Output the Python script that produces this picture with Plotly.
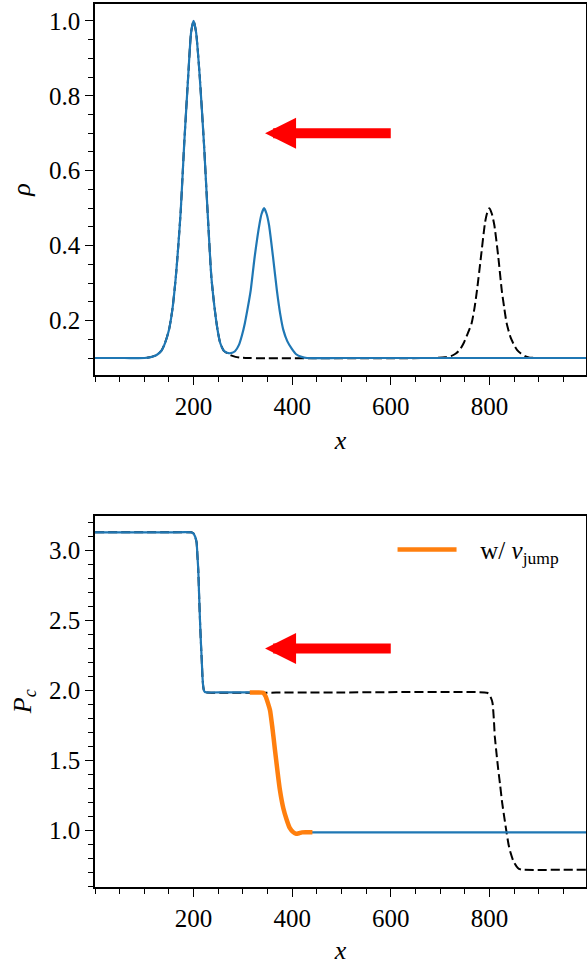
import plotly.graph_objects as go

# ---------------- data ----------------
# top panel: density rho(x)
rho_x = [0, 60, 100, 115, 125, 135, 142, 150, 157, 164, 169, 174, 181, 189, 195, 200,
         205, 212, 221, 228, 236, 242, 248, 254, 261, 268, 276, 284, 292, 298, 304,
         310, 316, 324, 334, 338, 343, 348, 353, 361, 369, 376, 382, 390, 399, 408,
         419, 430, 500, 996]
rho_y = [0.1, 0.1, 0.1, 0.103, 0.108, 0.12, 0.14, 0.175, 0.23, 0.317, 0.40, 0.495, 0.673,
         0.851, 0.97, 1.0, 0.97, 0.86, 0.673, 0.50, 0.317, 0.24, 0.18, 0.14, 0.12, 0.114,
         0.113, 0.118, 0.135, 0.16, 0.193, 0.235, 0.282, 0.371, 0.46, 0.485, 0.5, 0.485,
         0.455, 0.371, 0.28, 0.215, 0.175, 0.145, 0.125, 0.11, 0.103, 0.1, 0.1, 0.1]

rho0_x = [0, 60, 100, 115, 125, 135, 142, 150, 157, 164, 169, 174, 181, 189, 195, 200,
          205, 212, 221, 228, 236, 242, 248, 254, 261, 268, 276, 285, 295, 305, 680,
          710, 722, 732, 740, 748, 756, 764, 770, 775, 783, 791, 795, 800, 805, 810,
          818, 825, 830, 835, 843, 850, 856, 864, 872, 882, 900, 996]
rho0_y = [0.1, 0.1, 0.1, 0.103, 0.108, 0.12, 0.14, 0.175, 0.23, 0.317, 0.40, 0.495, 0.673,
          0.851, 0.97, 1.0, 0.97, 0.86, 0.673, 0.50, 0.317, 0.24, 0.18, 0.14, 0.12, 0.113,
          0.107, 0.103, 0.101, 0.1, 0.1, 0.102, 0.105, 0.112, 0.122, 0.14, 0.165, 0.193,
          0.235, 0.282, 0.371, 0.46, 0.485, 0.5, 0.485, 0.455, 0.371, 0.282, 0.235, 0.193,
          0.155, 0.135, 0.122, 0.112, 0.105, 0.101, 0.1, 0.1]

# bottom panel: Pc(x)
pc_x = [0, 150, 195, 199, 203, 206, 208, 209.5, 211, 213, 215, 216.5, 218, 219.5, 221,
        223, 226, 260, 314, 330, 341, 346, 350, 355, 360, 365, 370, 375, 382, 388.6,
        395, 402, 408, 414, 420, 441, 600, 996]
pc_y = [3.13, 3.13, 3.13, 3.125, 3.10, 3.06, 2.95, 2.86, 2.70, 2.50, 2.33, 2.22, 2.10,
        2.03, 2.0, 1.99, 1.987, 1.987, 1.987, 1.987, 1.985, 1.96, 1.92, 1.86, 1.73, 1.578,
        1.43, 1.293, 1.16, 1.08, 1.02, 0.99, 0.978, 0.982, 0.988, 0.988, 0.988, 0.988]

jump_x = [314, 330, 341, 346, 350, 355, 360, 365, 370, 375, 382, 388.6, 395, 402, 408,
          414, 420, 441]
jump_y = [1.987, 1.987, 1.985, 1.96, 1.92, 1.86, 1.73, 1.578, 1.43, 1.293, 1.16, 1.08,
          1.02, 0.99, 0.978, 0.982, 0.988, 0.988]

pc0_x = [0, 150, 195, 199, 203, 206, 208, 209.5, 211, 213, 215, 216.5, 218, 219.5, 221,
         223, 226, 500, 795, 799, 803, 806.4, 809, 811, 814.5, 818, 822, 826, 830.5, 835,
         839, 843, 849, 855, 860, 866, 996]
pc0_y = [3.13, 3.13, 3.13, 3.125, 3.10, 3.06, 2.95, 2.86, 2.70, 2.50, 2.33, 2.22, 2.10,
         2.03, 2.0, 1.99, 1.987, 1.987, 1.985, 1.975, 1.95, 1.912, 1.80, 1.673, 1.55, 1.436,
         1.32, 1.198, 1.09, 0.984, 0.90, 0.842, 0.78, 0.746, 0.728, 0.722, 0.722]

# arrows (tail x, head x, level)
arrow_tail_x = 603
arrow_head_x = 345
arrow_rho = 0.7
arrow_pc = 2.3

x_ticks = [200, 400, 600, 800]
rho_ticks = [0.2, 0.4, 0.6, 0.8, 1.0]
pc_ticks = [1.0, 1.5, 2.0, 2.5, 3.0]

BLUE = "#1f77b4"
ORANGE = "#ff7f0e"
FONT = "Liberation Serif"
NBSP = "\u00a0"

fig = go.Figure()

fig.add_trace(go.Scatter(x=rho0_x, y=rho0_y, mode="lines", showlegend=False,
                         line=dict(color="black", width=2, dash="9px,4px", shape="spline", smoothing=0.6),
                         xaxis="x", yaxis="y"))
fig.add_trace(go.Scatter(x=rho_x, y=rho_y, mode="lines", showlegend=False,
                         line=dict(color=BLUE, width=2.2, shape="spline", smoothing=0.6),
                         xaxis="x", yaxis="y"))

fig.add_trace(go.Scatter(x=pc0_x, y=pc0_y, mode="lines", showlegend=False,
                         line=dict(color="black", width=2, dash="9px,4px", shape="spline", smoothing=0.5),
                         xaxis="x2", yaxis="y2"))
fig.add_trace(go.Scatter(x=pc_x, y=pc_y, mode="lines", showlegend=False,
                         line=dict(color=BLUE, width=2.2, shape="spline", smoothing=0.5),
                         xaxis="x2", yaxis="y2"))
fig.add_trace(go.Scatter(x=jump_x, y=jump_y, mode="lines",
                         name=NBSP * 3 + "w/ <i>v</i><sub>jump</sub>",
                         line=dict(color=ORANGE, width=4.5, shape="spline", smoothing=0.5),
                         xaxis="x2", yaxis="y2"))

for xr, yr, yv in [("x", "y", arrow_rho), ("x2", "y2", arrow_pc)]:
    fig.add_annotation(x=arrow_head_x, y=yv, ax=arrow_tail_x, ay=yv,
                       xref=xr, yref=yr, axref=xr, ayref=yr,
                       text="", showarrow=True, arrowhead=2, arrowsize=0.62,
                       arrowwidth=10, arrowcolor="#ff0000")

axis_common = dict(showline=True, linecolor="black", linewidth=1.5, mirror=True,
                   ticks="outside", ticklen=8, tickwidth=1.2, tickcolor="black",
                   showgrid=False, zeroline=False, automargin=False,
                   tickfont=dict(family=FONT, size=25, color="black"))

xaxis_common = dict(axis_common, range=[0, 996], tickmode="array", tickvals=x_ticks,
                    minor=dict(tickmode="linear", tick0=0, dtick=50, ticklen=5,
                               tickwidth=1, tickcolor="black", ticks="outside"))

fig.update_layout(
    width=587, height=965,
    margin=dict(l=95, r=1, t=4, b=78),
    paper_bgcolor="white", plot_bgcolor="white",
    font=dict(family=FONT, color="black"),
    xaxis=dict(xaxis_common, anchor="y",
               title=dict(text="<i>x</i>", font=dict(family=FONT, size=26), standoff=12)),
    yaxis=dict(axis_common, domain=[0.58, 1.0], range=[0.055, 1.045],
               tickmode="array", tickvals=rho_ticks, ticktext=["0.2", "0.4", "0.6", "0.8", "1.0"],
               minor=dict(tickmode="linear", tick0=0, dtick=0.05, ticklen=5,
                          tickwidth=1, tickcolor="black", ticks="outside"),
               title=dict(text="<i>ρ</i>", font=dict(family=FONT, size=26), standoff=11)),
    xaxis2=dict(xaxis_common, anchor="y2",
                title=dict(text="<i>x</i>", font=dict(family=FONT, size=26), standoff=12)),
    yaxis2=dict(axis_common, domain=[0.0, 0.4207], range=[0.598, 3.25],
                tickmode="array", tickvals=pc_ticks, ticktext=["1.0", "1.5", "2.0", "2.5", "3.0"],
                minor=dict(tickmode="linear", tick0=0, dtick=0.1, ticklen=5,
                           tickwidth=1, tickcolor="black", ticks="outside"),
                title=dict(text="<i>P</i><sub><i>c</i></sub>", font=dict(family=FONT, size=26), standoff=10)),
    legend=dict(x=0.606, y=0.382, xanchor="left", yanchor="middle",
                bgcolor="rgba(0,0,0,0)", borderwidth=0, itemwidth=59,
                font=dict(family=FONT, size=25, color="black")),
)

fig.write_html("out.html", config={"displayModeBar": False},
               post_script="document.body.style.margin='0';document.body.style.overflow='hidden';")
